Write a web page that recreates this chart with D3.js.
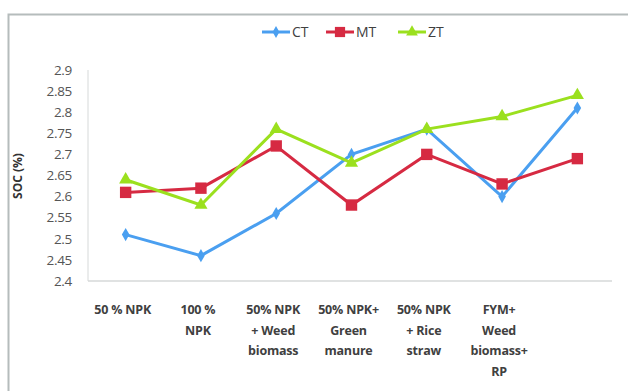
<!DOCTYPE html>
<html>
<head>
<meta charset="utf-8">
<script src="https://cdn.jsdelivr.net/npm/d3@7"></script>
<style>
  body { margin: 0; background: #fff; }
  text { font-family: "Open Sans", sans-serif; }
</style>
</head>
<body>
<div id="chart"></div>
<script>
const categories = [
    ["50 % NPK"],
    ["100 %", "NPK"],
    ["50% NPK", "+ Weed", "biomass"],
    ["50% NPK+", "Green", "manure"],
    ["50% NPK", "+ Rice", "straw"],
    ["FYM+", "Weed", "biomass+", "RP"],
    []
]
const ctValues = [2.51, 2.46, 2.56, 2.70, 2.76, 2.60, 2.81]
const mtValues = [2.61, 2.62, 2.72, 2.58, 2.70, 2.63, 2.69]
const ztValues = [2.64, 2.58, 2.76, 2.68, 2.76, 2.79, 2.84]
const yTicks = [2.4, 2.45, 2.5, 2.55, 2.6, 2.65, 2.7, 2.75, 2.8, 2.85, 2.9]

const series = [
    { key: "CT", values: ctValues, color: "#4a9ff0", symbol: d3.symbolDiamond, size: 50 },
    { key: "MT", values: mtValues, color: "#d62a42", symbol: d3.symbolSquare, size: 130 },
    { key: "ZT", values: ztValues, color: "#9be01e", symbol: d3.symbolTriangle, size: 75 }
]

const width = 628, height = 391
const layout = { left: 88, right: 615, top: 70, bottom: 281 }

const svg = d3.select("#chart").append("svg")
    .attr("width", width)
    .attr("height", height)

// outer frame
svg.append("rect")
    .attr("x", 8.5).attr("y", 14.5)
    .attr("width", 700).attr("height", 500)
    .attr("fill", "none")
    .attr("stroke", "#b5bcbc")
    .attr("stroke-width", 2)

const xScale = d3.scaleBand()
    .domain(d3.range(categories.length))
    .range([layout.left, layout.right])

const yScale = d3.scaleLinear()
    .domain([2.4, 2.9])
    .range([layout.bottom, layout.top])

// axes lines
svg.append("line")
    .attr("x1", layout.left).attr("x2", layout.left)
    .attr("y1", layout.top).attr("y2", layout.bottom)
    .attr("stroke", "#d6d9d9").attr("stroke-width", 1)
svg.append("line")
    .attr("x1", layout.left).attr("x2", 612)
    .attr("y1", layout.bottom).attr("y2", layout.bottom)
    .attr("stroke", "#d6d9d9").attr("stroke-width", 1.5)

// y tick labels
svg.append("g")
    .selectAll("text")
    .data(yTicks)
    .join("text")
    .attr("x", 72)
    .attr("y", d => yScale(d))
    .attr("dy", "0.35em")
    .attr("text-anchor", "end")
    .attr("font-size", 13.5)
    .attr("letter-spacing", "-0.3")
    .attr("fill", "#555")
    .text(d => d3.format("")(d))

// y axis title
svg.append("text")
    .attr("transform", "translate(22,176) rotate(-90)")
    .attr("text-anchor", "middle")
    .attr("font-size", 12)
    .attr("font-weight", "bold")
    .attr("fill", "#333")
    .text("SOC (%)")

// x labels
const xLabels = svg.append("g")
    .selectAll("text")
    .data(categories)
    .join("text")
    .attr("text-anchor", "middle")
    .attr("font-size", 12.5)
    .attr("font-weight", "bold")
    .attr("letter-spacing", "-0.2")
    .attr("fill", "#404040")
    .attr("transform", (d, i) => `translate(${xScale(i) + xScale.bandwidth() / 2 - 3},314)`)
xLabels.selectAll("tspan")
    .data(d => d)
    .join("tspan")
    .attr("x", 0)
    .attr("y", (d, i) => i * 20.5)
    .text(d => d)

const line = d3.line()
    .x((d, i) => xScale(i) + xScale.bandwidth() / 2)
    .y(d => yScale(d))

series.forEach(s => {
    svg.append("path")
        .datum(s.values)
        .attr("fill", "none")
        .attr("stroke", s.color)
        .attr("stroke-width", 3)
        .attr("d", line)
    svg.append("g")
        .selectAll("path")
        .data(s.values)
        .join("path")
        .attr("d", d3.symbol().type(s.symbol).size(s.size))
        .attr("fill", s.color)
        .attr("transform", (d, i) => `translate(${xScale(i) + xScale.bandwidth() / 2},${yScale(d)})`)
})

// legend
const legendX = [262, 326, 398]
const legend = svg.append("g")
    .selectAll("g")
    .data(series)
    .join("g")
    .attr("transform", (d, i) => `translate(${legendX[i]},32)`)
legend.append("line")
    .attr("x1", 0).attr("x2", 28)
    .attr("stroke", d => d.color)
    .attr("stroke-width", 3)
legend.append("path")
    .attr("d", d => d3.symbol().type(d.symbol).size(d.size * 0.8)())
    .attr("transform", "translate(14,0)")
    .attr("fill", d => d.color)
legend.append("text")
    .attr("x", 30)
    .attr("dy", "0.35em")
    .attr("font-size", 14)
    .attr("fill", "#404040")
    .text(d => d.key)
</script>
</body>
</html>
